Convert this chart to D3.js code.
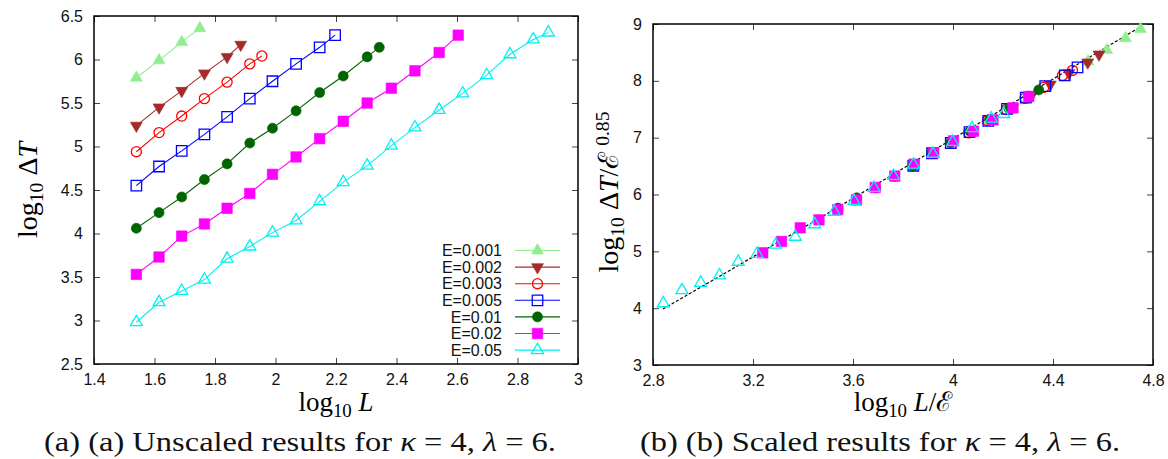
<!DOCTYPE html>
<html>
<head>
<meta charset="utf-8">
<script src="https://cdn.jsdelivr.net/npm/d3@7"></script>
<style>
  body { margin: 0; background: #fff; }
  svg { display: block; }
</style>
</head>
<body>
<svg id="chart"></svg>
<script>
// energies and legend text
const energies = [0.001, 0.002, 0.003, 0.005, 0.01, 0.02, 0.05];
const legendLabels = ["E=0.001", "E=0.002", "E=0.003", "E=0.005", "E=0.01", "E=0.02", "E=0.05"];
const scalingExponent = 0.85;

// log10 L and log10 dT for each energy
const logL_e001 = [1.540, 1.615, 1.690, 1.750];
const logDT_e001 = [5.79, 5.99, 6.20, 6.36];
const logL_e002 = [1.540, 1.615, 1.690, 1.765, 1.840, 1.885];
const logDT_e002 = [5.24, 5.45, 5.64, 5.84, 6.03, 6.17];
const logL_e003 = [1.540, 1.615, 1.690, 1.765, 1.840, 1.915, 1.955];
const logDT_e003 = [4.94, 5.16, 5.35, 5.55, 5.74, 5.95, 6.04];
const logL_e005 = [1.540, 1.615, 1.690, 1.765, 1.840, 1.915, 1.990, 2.068, 2.146, 2.197];
const logDT_e005 = [4.55, 4.77, 4.95, 5.14, 5.34, 5.55, 5.75, 5.95, 6.14, 6.28];
const logL_e01 = [1.540, 1.615, 1.690, 1.765, 1.840, 1.915, 1.990, 2.068, 2.146, 2.224, 2.303, 2.343];
const logDT_e01 = [4.06, 4.24, 4.42, 4.62, 4.80, 5.04, 5.21, 5.41, 5.62, 5.81, 6.03, 6.14];
const logL_e02 = [1.540, 1.615, 1.690, 1.765, 1.840, 1.915, 1.990, 2.068, 2.146, 2.224, 2.303, 2.383, 2.461, 2.541, 2.604];
const logDT_e02 = [3.53, 3.73, 3.97, 4.11, 4.29, 4.46, 4.68, 4.88, 5.09, 5.29, 5.50, 5.67, 5.87, 6.08, 6.28];
const logL_e05 = [1.540, 1.615, 1.690, 1.765, 1.840, 1.915, 1.990, 2.068, 2.146, 2.224, 2.303, 2.383, 2.461, 2.541, 2.619, 2.698, 2.775, 2.852, 2.902];
const logDT_e05 = [2.98, 3.21, 3.34, 3.47, 3.71, 3.85, 4.01, 4.15, 4.37, 4.59, 4.78, 5.01, 5.22, 5.42, 5.61, 5.82, 6.06, 6.23, 6.31];

// dashed fit in the scaled panel
const fitX = [2.84, 3.45, 4.75];
const fitY = [3.985, 5.54, 8.95];

// tick values
const xTicksA = [1.4, 1.6, 1.8, 2, 2.2, 2.4, 2.6, 2.8, 3];
const yTicksA = [2.5, 3, 3.5, 4, 4.5, 5, 5.5, 6, 6.5];
const xTicksB = [2.8, 3.2, 3.6, 4, 4.4, 4.8];
const yTicksB = [3, 4, 5, 6, 7, 8, 9];

const allLogL = [logL_e001, logL_e002, logL_e003, logL_e005, logL_e01, logL_e02, logL_e05];
const allLogDT = [logDT_e001, logDT_e002, logDT_e003, logDT_e005, logDT_e01, logDT_e02, logDT_e05];

// marker look per series, same order as energies
var styles = [
  {color: "#90ee90", shape: "up",     filled: true},
  {color: "#a52a2a", shape: "down",   filled: true},
  {color: "#ff0000", shape: "circle", filled: false},
  {color: "#0000ff", shape: "square", filled: false},
  {color: "#006400", shape: "circle", filled: true},
  {color: "#ff00ff", shape: "square", filled: true},
  {color: "#00f0f0", shape: "up",     filled: false}
];

var width = 1168, height = 459;
var svg = d3.select("#chart").attr("width", width).attr("height", height);

var sans = "'Liberation Sans', Arial, Helvetica, sans-serif";
var serif = "'Liberation Serif', 'DejaVu Serif', serif";

var series = energies.map(function(e, i) {
  return allLogL[i].map(function(x, j) { return {x: x, y: allLogDT[i][j], e: e}; });
});

function symbolPath(shape) {
  if (shape == "square") return d3.symbol(d3.symbolSquare, 110)();
  if (shape == "circle") return d3.symbol(d3.symbolCircle, 80)();
  return d3.symbol(d3.symbolTriangle, 62)();
}

function drawMarker(g, st, px, py) {
  g.append("path")
    .attr("d", symbolPath(st.shape))
    .attr("transform", "translate(" + px + "," + py + ")" + (st.shape == "down" ? " rotate(180)" : ""))
    .style("fill", st.filled ? st.color : "none")
    .style("stroke", st.color)
    .style("stroke-width", st.filled ? 0.6 : 1.3);
}

function drawFrame(x, y, xTicks, yTicks) {
  var x0 = x.range()[0], x1 = x.range()[1];
  var y0 = y.range()[0], y1 = y.range()[1];
  var fmt = function(d) { return String(d); };

  var bottom = svg.append("g").attr("transform", "translate(0," + y0 + ")")
    .call(d3.axisBottom(x).tickValues(xTicks).tickSize(-6).tickPadding(10).tickFormat(fmt));
  var top = svg.append("g").attr("transform", "translate(0," + y1 + ")")
    .call(d3.axisTop(x).tickValues(xTicks).tickSize(-6).tickFormat(""));
  var left = svg.append("g").attr("transform", "translate(" + x0 + ",0)")
    .call(d3.axisLeft(y).tickValues(yTicks).tickSize(-6).tickPadding(11).tickFormat(fmt));
  var right = svg.append("g").attr("transform", "translate(" + x1 + ",0)")
    .call(d3.axisRight(y).tickValues(yTicks).tickSize(-6).tickFormat(""));

  [bottom, top, left, right].forEach(function(a) {
    a.select(".domain").remove();
    a.selectAll(".tick line").style("stroke", "#444").style("stroke-width", 1);
    a.selectAll("text").style("font-family", sans).style("font-size", "16px").style("fill", "#111");
  });

  svg.append("rect")
    .attr("x", x0).attr("y", y1)
    .attr("width", x1 - x0).attr("height", y0 - y1)
    .style("fill", "none").style("stroke", "#000").style("stroke-width", 1.5);
}

// ---------- panel (a): unscaled ----------
var xa = d3.scaleLinear().domain([1.4, 3]).range([94, 578]);
var ya = d3.scaleLinear().domain([2.5, 6.5]).range([364, 16]);
drawFrame(xa, ya, xTicksA, yTicksA);

var lineA = d3.line().x(function(d) { return xa(d.x); }).y(function(d) { return ya(d.y); });

var gA = svg.append("g");
series.forEach(function(s, i) {
  gA.append("path")
    .attr("d", lineA(s))
    .style("fill", "none")
    .style("stroke", styles[i].color)
    .style("stroke-width", 1.1);
  s.forEach(function(d) { drawMarker(gA, styles[i], xa(d.x), ya(d.y)); });
});

// legend
var legY0 = 250.5, legStep = 16.6;
legendLabels.forEach(function(lbl, i) {
  var ly = legY0 + i * legStep;
  svg.append("text")
    .text(lbl)
    .attr("x", 502).attr("y", ly)
    .attr("dy", "0.36em")
    .attr("text-anchor", "end")
    .style("font-family", sans).style("font-size", "16px").style("fill", "#111");
  svg.append("line")
    .attr("x1", 515).attr("x2", 560).attr("y1", ly).attr("y2", ly)
    .style("stroke", styles[i].color).style("stroke-width", 1.1);
  drawMarker(svg, styles[i], 537.5, ly);
});

// ---------- panel (b): scaled ----------
var xb = d3.scaleLinear().domain([2.8, 4.8]).range([653, 1153]);
var yb = d3.scaleLinear().domain([3, 9]).range([365, 24]);
drawFrame(xb, yb, xTicksB, yTicksB);

var fitPts = fitX.map(function(v, i) { return {x: v, y: fitY[i]}; });
svg.append("path")
  .attr("d", d3.line().x(function(d) { return xb(d.x); }).y(function(d) { return yb(d.y); })(fitPts))
  .style("fill", "none")
  .style("stroke", "#000")
  .style("stroke-width", 1.2)
  .style("stroke-dasharray", "3,2");

var gB = svg.append("g");
series.forEach(function(s, i) {
  s.forEach(function(d) {
    var le = Math.log10(d.e);
    drawMarker(gB, styles[i], xb(d.x - le), yb(d.y - scalingExponent * le));
  });
});

// ---------- axis titles ----------
function mathLabel(sel, parts) {
  parts.forEach(function(p) {
    var t = sel.append("tspan").text(p.t);
    if (p.it) t.style("font-style", "italic");
    if (p.sub) t.attr("dy", "0.3em").style("font-size", "0.7em");
    if (p.sup) t.attr("dy", "-0.45em").attr("dx", "0.3em").style("font-size", "0.7em");
    if (p.back) t.attr("dy", p.back);
  });
}

var tA = svg.append("text").attr("x", 336).attr("y", 411).attr("text-anchor", "middle")
  .style("font-family", serif).style("font-size", "27px");
mathLabel(tA, [{t: "log"}, {t: "10", sub: true}, {t: " L", it: true, back: "-0.21em"}]);

var tB = svg.append("text").attr("x", 903).attr("y", 411).attr("text-anchor", "middle")
  .style("font-family", serif).style("font-size", "27px");
mathLabel(tB, [{t: "log"}, {t: "10", sub: true}, {t: " L", it: true, back: "-0.21em"}, {t: "/ℰ"}]);

var yA = svg.append("text").attr("transform", "translate(37,190) rotate(-90)").attr("text-anchor", "middle")
  .style("font-family", serif).style("font-size", "28px");
mathLabel(yA, [{t: "log"}, {t: "10", sub: true}, {t: " Δ", back: "-0.21em"}, {t: "T", it: true}]);

var yB = svg.append("text").attr("transform", "translate(618,192) rotate(-90)").attr("text-anchor", "middle")
  .style("font-family", serif).style("font-size", "28px");
mathLabel(yB, [{t: "log"}, {t: "10", sub: true}, {t: " Δ", back: "-0.21em"}, {t: "T", it: true}, {t: "/ℰ"}, {t: "0.85", sup: true}]);

// ---------- captions ----------
function caption(x, len, letter, words) {
  var c = svg.append("text").attr("x", x).attr("y", 451).attr("text-anchor", "middle")
    .attr("textLength", len).attr("lengthAdjust", "spacingAndGlyphs")
    .style("font-family", serif).style("font-size", "27px").style("fill", "#111");
  c.append("tspan").text("(" + letter + ") (" + letter + ") " + words + " for ");
  c.append("tspan").text("κ").style("font-style", "italic");
  c.append("tspan").text(" = 4, ");
  c.append("tspan").text("λ").style("font-style", "italic");
  c.append("tspan").text(" = 6.");
}
caption(300, 512, "a", "Unscaled results");
caption(880, 480, "b", "Scaled results");
</script>
</body>
</html>
